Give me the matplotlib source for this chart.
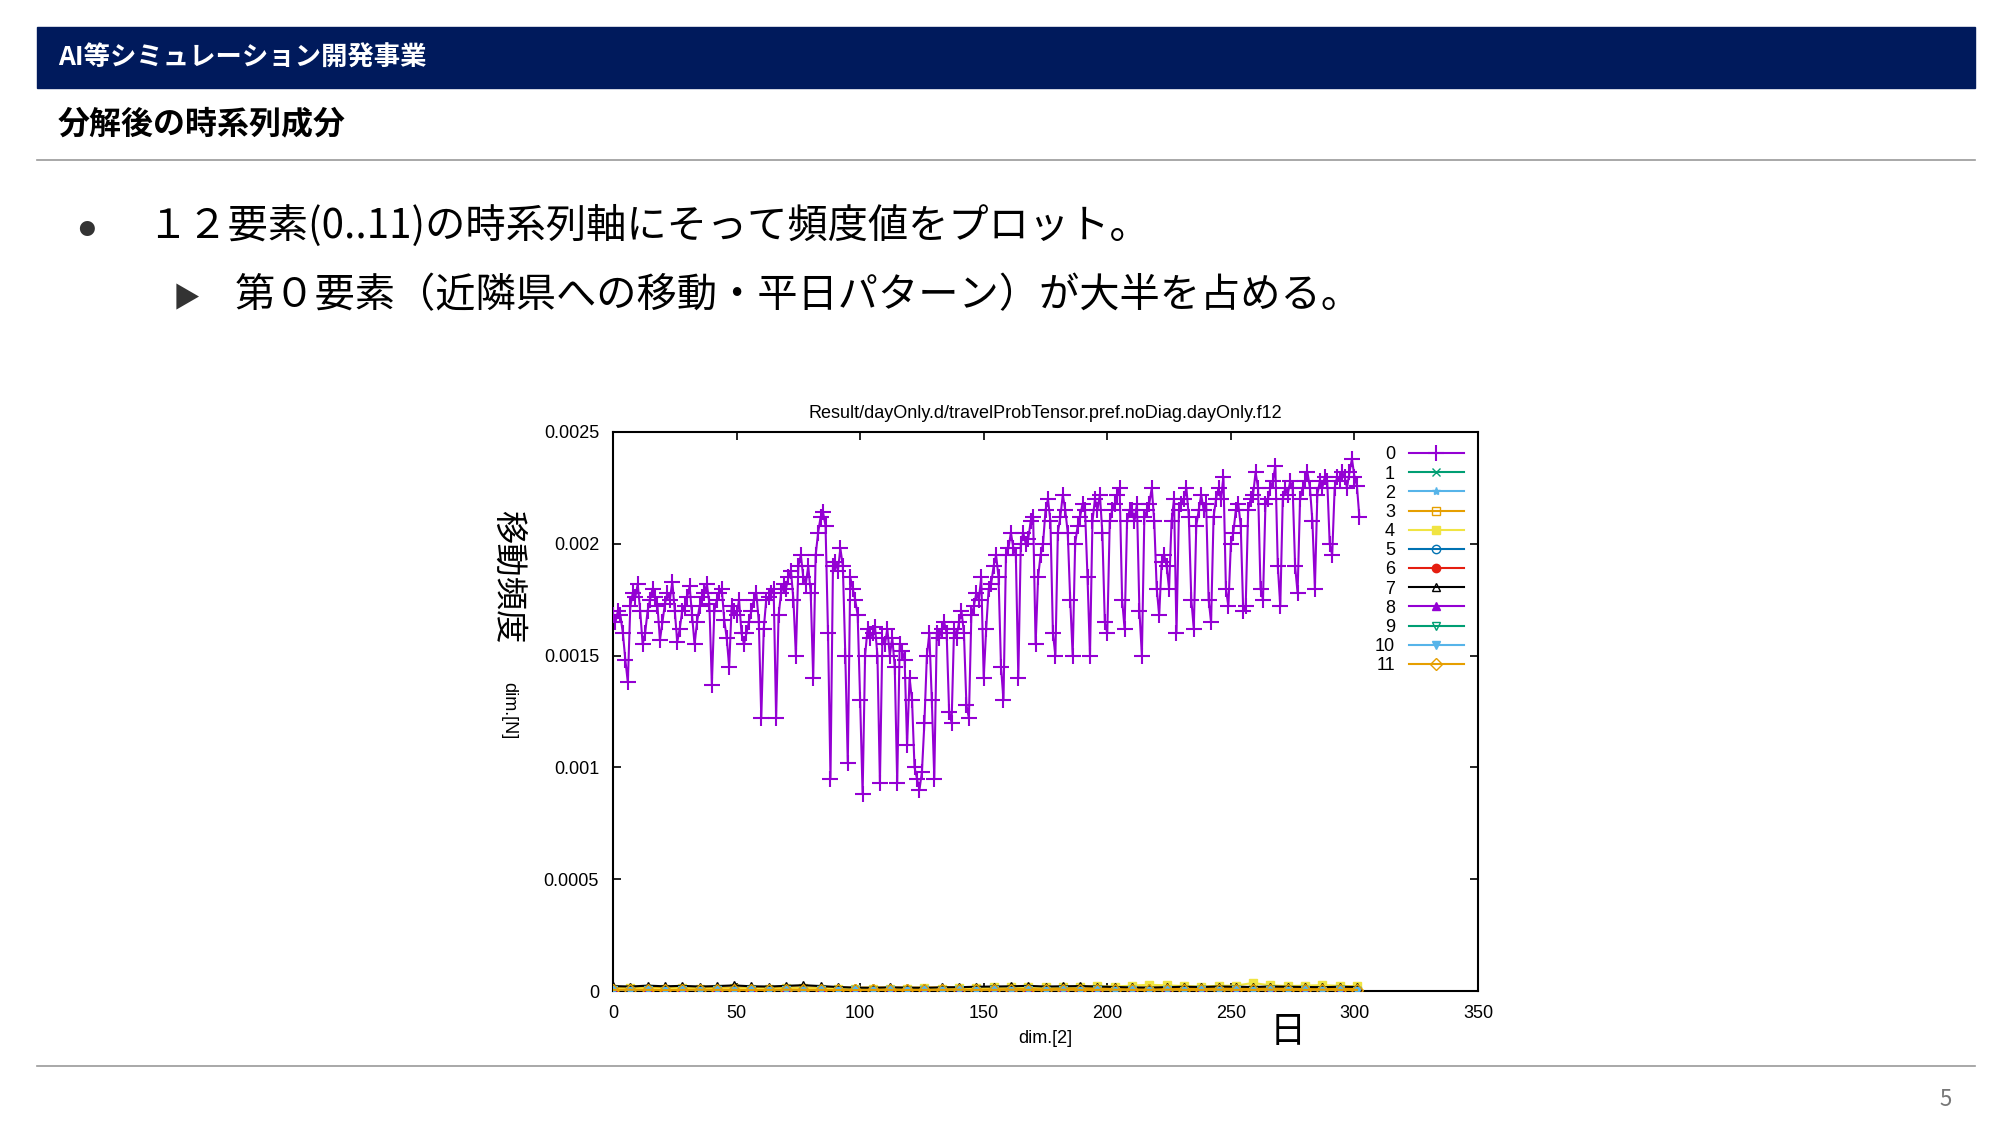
import matplotlib
matplotlib.use("Agg")
import matplotlib.pyplot as plt
import numpy as np

plt.rcParams['font.family'] = ['Noto Sans CJK JP', 'DejaVu Sans']

# series 0, one row per week (day 0..302)
weeks0 = [
    [0.00168, 0.00165, 0.00170, 0.00168, 0.00160, 0.00148, 0.00138],
    [0.00172, 0.00178, 0.00176, 0.00182, 0.00170, 0.00155, 0.00160],
    [0.00170, 0.00175, 0.00180, 0.00176, 0.00172, 0.00157, 0.00165],
    [0.00173, 0.00178, 0.00175, 0.00183, 0.00170, 0.00156, 0.00162],
    [0.00170, 0.00172, 0.00176, 0.00181, 0.00168, 0.00155, 0.00165],
    [0.00172, 0.00176, 0.00178, 0.00182, 0.00173, 0.00137, 0.00170],
    [0.00175, 0.00178, 0.00180, 0.00166, 0.00158, 0.00145, 0.00172],
    [0.00170, 0.00168, 0.00175, 0.00160, 0.00155, 0.00160, 0.00165],
    [0.00170, 0.00175, 0.00178, 0.00165, 0.00122, 0.00162, 0.00175],
    [0.00176, 0.00178, 0.00180, 0.00122, 0.00168, 0.00178, 0.00182],
    [0.00180, 0.00185, 0.00188, 0.00175, 0.00150, 0.00190, 0.00195],
    [0.00185, 0.00182, 0.00190, 0.00178, 0.00140, 0.00195, 0.00205],
    [0.00212, 0.00214, 0.00208, 0.00160, 0.00095, 0.00190, 0.00192],
    [0.00188, 0.00198, 0.00190, 0.00150, 0.00102, 0.00185, 0.00180],
    [0.00175, 0.00168, 0.00130, 0.00088, 0.00150, 0.00162, 0.00158],
    [0.00160, 0.00163, 0.00150, 0.00093, 0.00158, 0.00155, 0.00162],
    [0.00150, 0.00158, 0.00145, 0.00093, 0.00155, 0.00152, 0.00148],
    [0.00110, 0.00140, 0.00130, 0.00100, 0.00095, 0.00090, 0.00098],
    [0.00120, 0.00150, 0.00160, 0.00130, 0.00095, 0.00160, 0.00158],
    [0.00162, 0.00165, 0.00160, 0.00125, 0.00120, 0.00162, 0.00158],
    [0.00165, 0.00170, 0.00160, 0.00128, 0.00122, 0.00168, 0.00172],
    [0.00178, 0.00175, 0.00185, 0.00140, 0.00162, 0.00180, 0.00182],
    [0.00190, 0.00195, 0.00185, 0.00145, 0.00130, 0.00195, 0.00198],
    [0.00205, 0.00198, 0.00195, 0.00140, 0.00200, 0.00205, 0.00200],
    [0.00202, 0.00210, 0.00212, 0.00155, 0.00185, 0.00195, 0.00200],
    [0.00215, 0.00220, 0.00210, 0.00160, 0.00150, 0.00205, 0.00212],
    [0.00222, 0.00215, 0.00205, 0.00175, 0.00150, 0.00200, 0.00208],
    [0.00212, 0.00218, 0.00215, 0.00185, 0.00150, 0.00210, 0.00220],
    [0.00215, 0.00222, 0.00205, 0.00165, 0.00160, 0.00210, 0.00215],
    [0.00218, 0.00222, 0.00225, 0.00175, 0.00162, 0.00210, 0.00215],
    [0.00215, 0.00210, 0.00218, 0.00170, 0.00150, 0.00212, 0.00215],
    [0.00218, 0.00225, 0.00210, 0.00180, 0.00168, 0.00192, 0.00195],
    [0.00190, 0.00180, 0.00210, 0.00220, 0.00160, 0.00215, 0.00218],
    [0.00220, 0.00225, 0.00212, 0.00175, 0.00162, 0.00208, 0.00215],
    [0.00222, 0.00215, 0.00218, 0.00175, 0.00165, 0.00212, 0.00220],
    [0.00225, 0.00220, 0.00230, 0.00180, 0.00172, 0.00200, 0.00205],
    [0.00215, 0.00218, 0.00208, 0.00170, 0.00172, 0.00215, 0.00220],
    [0.00222, 0.00232, 0.00225, 0.00180, 0.00175, 0.00218, 0.00220],
    [0.00225, 0.00228, 0.00235, 0.00190, 0.00172, 0.00220, 0.00225],
    [0.00222, 0.00228, 0.00225, 0.00190, 0.00178, 0.00220, 0.00225],
    [0.00228, 0.00232, 0.00225, 0.00210, 0.00180, 0.00222, 0.00228],
    [0.00225, 0.00230, 0.00228, 0.00200, 0.00195, 0.00225, 0.00230],
    [0.00228, 0.00232, 0.00230, 0.00225, 0.00232, 0.00238, 0.00230],
    [0.00226, 0.00212],
]
s0 = [v for w in weeks0 for v in w]

# other components, sampled weekly (day 0, 7, ..., 301)
s7 = [2.2e-5, 2.0e-5, 2.4e-5, 2.1e-5, 2.3e-5, 2.0e-5, 2.2e-5, 2.5e-5, 2.1e-5, 2.0e-5,
      2.3e-5, 2.6e-5, 2.2e-5, 1.8e-5, 1.5e-5, 1.4e-5, 1.6e-5, 1.5e-5, 1.4e-5, 1.6e-5,
      1.7e-5, 1.9e-5, 2.0e-5, 2.1e-5, 2.3e-5, 2.0e-5, 2.1e-5, 2.2e-5, 2.0e-5, 1.8e-5,
      1.6e-5, 1.5e-5, 1.7e-5, 1.9e-5, 1.8e-5, 2.0e-5, 1.9e-5, 1.8e-5, 2.0e-5, 1.9e-5,
      1.8e-5, 1.7e-5, 1.9e-5, 1.8e-5]
s4 = [1.0e-5, 1.2e-5, 1.1e-5, 1.0e-5, 1.3e-5, 1.1e-5, 1.0e-5, 1.2e-5, 1.1e-5, 1.0e-5,
      1.2e-5, 1.3e-5, 1.1e-5, 1.0e-5, 0.9e-5, 1.0e-5, 1.1e-5, 1.0e-5, 1.2e-5, 1.1e-5,
      1.3e-5, 1.4e-5, 1.6e-5, 1.7e-5, 1.8e-5, 1.6e-5, 1.9e-5, 2.0e-5, 2.2e-5, 2.0e-5,
      2.4e-5, 2.8e-5, 2.5e-5, 2.2e-5, 2.0e-5, 2.3e-5, 2.4e-5, 3.6e-5, 2.5e-5, 2.2e-5,
      2.4e-5, 2.6e-5, 2.3e-5, 2.1e-5]
s11 = [5e-6, 6e-6, 5e-6, 4e-6, 5e-6, 6e-6, 5e-6, 5e-6, 4e-6, 5e-6,
       6e-6, 5e-6, 5e-6, 4e-6, 4e-6, 5e-6, 5e-6, 4e-6, 5e-6, 5e-6,
       6e-6, 5e-6, 5e-6, 6e-6, 5e-6, 5e-6, 6e-6, 5e-6, 5e-6, 6e-6,
       5e-6, 5e-6, 6e-6, 5e-6, 5e-6, 6e-6, 5e-6, 5e-6, 6e-6, 5e-6,
       5e-6, 6e-6, 5e-6, 5e-6]
low = [3e-6, 2e-6, 3e-6, 2e-6, 3e-6, 2e-6, 3e-6, 2e-6, 3e-6, 2e-6,
       3e-6, 2e-6, 3e-6, 2e-6, 3e-6, 2e-6, 3e-6, 2e-6, 3e-6, 2e-6,
       3e-6, 2e-6, 3e-6, 2e-6, 3e-6, 2e-6, 3e-6, 2e-6, 3e-6, 2e-6,
       3e-6, 2e-6, 3e-6, 2e-6, 3e-6, 2e-6, 3e-6, 2e-6, 3e-6, 2e-6,
       3e-6, 2e-6, 3e-6, 2e-6]

colors = ['#9400d3', '#009e73', '#56b4e9', '#e69f00', '#f0e442', '#0072b2',
          '#e51e10', '#000000', '#9400d3', '#009e73', '#56b4e9', '#e69f00']
markers = ['+', 'x', '*', 's', 's', 'o', 'o', '^', '^', 'v', 'v', 'D']
filled = [True, True, True, False, True, False, True, False, True, False, True, False]
others = {1: low, 2: low, 3: low, 4: s4, 5: low, 6: low, 7: s7, 8: low, 9: low, 10: low, 11: s11}

fig = plt.figure(figsize=(20, 11.25), dpi=100)

# slide decoration
fig.patches.append(plt.Rectangle((37/2000, 1-88/1125), 1938/2000, 61/1125,
                                 transform=fig.transFigure, color='#001a5c'))
fig.text(58/2000, 1-58/1125, 'AI等シミュレーション開発事業', color='white',
         fontsize=19, fontweight='bold', va='center')
fig.text(58/2000, 1-124/1125, '分解後の時系列成分', fontsize=23, fontweight='bold', va='center')
fig.add_artist(plt.Line2D([37/2000, 1975/2000], [1-160/1125]*2, color='#999999', lw=1.2))
fig.add_artist(plt.Line2D([37/2000, 1975/2000], [1-1066/1125]*2, color='#999999', lw=1.2))
fig.text(86/2000, 1-231/1125, '●', fontsize=12, color='#333333', va='center', ha='center')
fig.text(147/2000, 1-226/1125, '１２要素(0..11)の時系列軸にそって頻度値をプロット。',
         fontsize=29, va='center')
fig.text(186/2000, 1-299/1125, '▶', fontsize=20, color='#333333', va='center', ha='center')
fig.text(235/2000, 1-296/1125, '第０要素（近隣県への移動・平日パターン）が大半を占める。',
         fontsize=29, va='center')
fig.text(1946/2000, 1-1100/1125, '5', fontsize=16, color='#777777', va='center', ha='center')

ax = fig.add_axes([613/2000, 1-991/1125, 865/2000, 559/1125])
x0 = np.arange(len(s0))
ax.plot(x0, s0, color=colors[0], marker='+', ms=11, mew=1.5, lw=1.5, label='0', zorder=5)
for k in range(1, 12):
    xs = np.arange(len(others[k])) * 7
    ax.plot(xs, others[k], color=colors[k], marker=markers[k], ms=6, lw=1.5,
            mfc=colors[k] if filled[k] else 'none', label=str(k), zorder=3)
# thick orange band along the floor, as in the original
ax.plot(np.arange(len(s11)) * 7, s11, color=colors[11], lw=5, zorder=2)

ax.set_xlim(0, 350)
ax.set_ylim(0, 0.0025)
ax.set_xticks(np.arange(0, 351, 50))
ax.set_yticks([0, 0.0005, 0.001, 0.0015, 0.002, 0.0025])
ax.set_yticklabels(['0', '0.0005', '0.001', '0.0015', '0.002', '0.0025'])
ax.tick_params(direction='in', top=True, right=True, labelsize=13, length=6, width=1.2, pad=10)
for lab in ax.get_xticklabels() + ax.get_yticklabels():
    lab.set_family('Liberation Sans')
for s in ax.spines.values():
    s.set_linewidth(1.5)
ax.set_title('Result/dayOnly.d/travelProbTensor.pref.noDiag.dayOnly.f12',
             fontsize=13, family='Liberation Sans', pad=10)
ax.set_xlabel('dim.[2]', fontsize=13, family='Liberation Sans', labelpad=6)
fig.text(509/2000, 1-711/1125, 'dim.[N]', rotation=-90, fontsize=13,
         family='Liberation Sans', ha='center', va='center')
fig.text(508/2000, 1-577/1125, '移動頻度', rotation=-90, fontsize=24, ha='center', va='center')
fig.text(1288/2000, 1-1032/1125, '日', fontsize=26, ha='center', va='center')

leg = ax.legend(loc='upper right', frameon=False, markerfirst=False, fontsize=13,
                handlelength=3, labelspacing=0.12, borderaxespad=0.4)
for t in leg.get_texts():
    t.set_family('Liberation Sans')
    t.set_ha('right')

fig.savefig('out.png', dpi=100)
